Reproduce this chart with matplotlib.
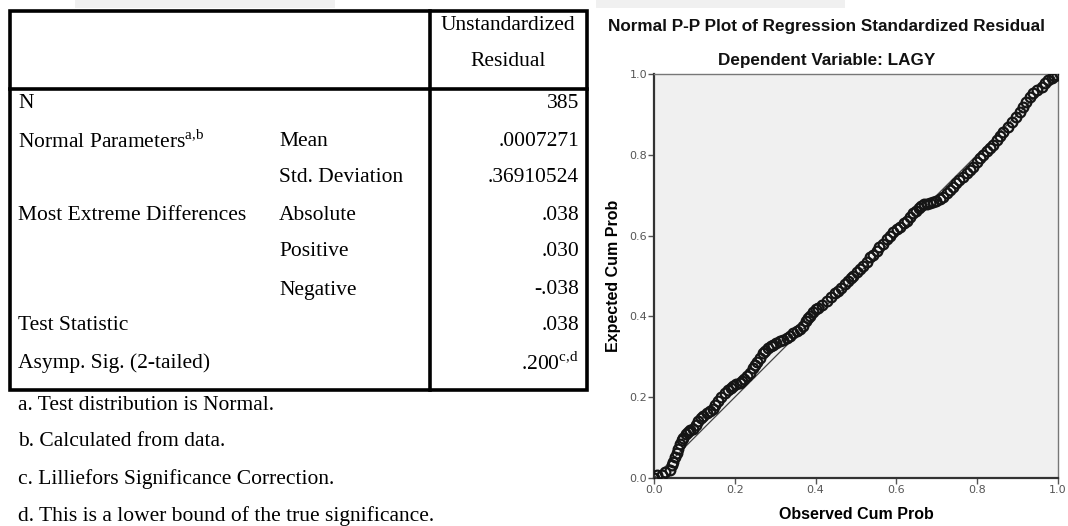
import numpy as np
import matplotlib
matplotlib.use("Agg")
import matplotlib.pyplot as plt
from matplotlib.patches import Rectangle

plt.rcParams['mathtext.fontset'] = 'custom'
plt.rcParams['mathtext.rm'] = 'Liberation Serif'

# --- table data (One-Sample Kolmogorov-Smirnov Test) ---
header = ["Unstandardized", "Residual"]
row_labels = ["N", r"Normal Parameters$^{\mathrm{a{,}b}}$", "", "Most Extreme Differences",
              "", "", "Test Statistic", "Asymp. Sig. (2-tailed)"]
sub_labels = ["", "Mean", "Std. Deviation", "Absolute", "Positive", "Negative", "", ""]
values = ["385", ".0007271", ".36910524", ".038", ".030", "-.038", ".038",
          r".200$^{\mathrm{c{,}d}}$"]
footnotes = ["a. Test distribution is Normal.",
             "b. Calculated from data.",
             "c. Lilliefors Significance Correction.",
             "d. This is a lower bound of the true significance."]

# --- P-P plot points ---
observed = [0.000, 0.007, 0.020, 0.027, 0.040, 0.044, 0.048, 0.052, 0.056, 0.060,
            0.064, 0.069, 0.073, 0.078, 0.083, 0.088, 0.097, 0.104, 0.110, 0.116,
            0.122, 0.130, 0.139, 0.145, 0.151, 0.159, 0.166, 0.176, 0.183, 0.190,
            0.196, 0.204, 0.212, 0.217, 0.224, 0.231, 0.238, 0.245, 0.250, 0.254,
            0.262, 0.270, 0.275, 0.283, 0.290, 0.295, 0.303, 0.312, 0.320, 0.328,
            0.337, 0.345, 0.353, 0.362, 0.370, 0.376, 0.381, 0.386, 0.394, 0.401,
            0.407, 0.416, 0.427, 0.437, 0.448, 0.455, 0.462, 0.473, 0.481, 0.488,
            0.493, 0.502, 0.510, 0.517, 0.526, 0.535, 0.542, 0.551, 0.558, 0.566,
            0.576, 0.584, 0.592, 0.601, 0.610, 0.618, 0.625, 0.633, 0.641, 0.648,
            0.655, 0.662, 0.668, 0.676, 0.683, 0.691, 0.699, 0.708, 0.716, 0.725,
            0.733, 0.741, 0.748, 0.756, 0.766, 0.774, 0.782, 0.790, 0.799, 0.807,
            0.815, 0.824, 0.832, 0.840, 0.849, 0.857, 0.865, 0.875, 0.885, 0.895,
            0.906, 0.914, 0.922, 0.930, 0.939, 0.948, 0.960, 0.968, 0.976, 0.984,
            0.990, 0.998]
expected = [0.000, 0.007, 0.008, 0.016, 0.021, 0.032, 0.040, 0.052, 0.062, 0.073,
            0.085, 0.095, 0.100, 0.110, 0.114, 0.119, 0.122, 0.132, 0.140, 0.148,
            0.153, 0.160, 0.166, 0.172, 0.180, 0.190, 0.200, 0.210, 0.219, 0.224,
            0.227, 0.232, 0.236, 0.239, 0.246, 0.252, 0.260, 0.272, 0.279, 0.286,
            0.296, 0.309, 0.315, 0.322, 0.327, 0.330, 0.334, 0.338, 0.342, 0.346,
            0.352, 0.358, 0.364, 0.370, 0.377, 0.388, 0.395, 0.401, 0.412, 0.418,
            0.422, 0.429, 0.437, 0.447, 0.457, 0.463, 0.470, 0.479, 0.488, 0.494,
            0.500, 0.509, 0.518, 0.524, 0.535, 0.546, 0.553, 0.562, 0.572, 0.580,
            0.591, 0.600, 0.609, 0.616, 0.622, 0.630, 0.636, 0.647, 0.657, 0.662,
            0.669, 0.673, 0.677, 0.679, 0.680, 0.682, 0.686, 0.690, 0.695, 0.706,
            0.714, 0.721, 0.729, 0.737, 0.746, 0.755, 0.763, 0.771, 0.781, 0.791,
            0.800, 0.809, 0.817, 0.825, 0.837, 0.847, 0.857, 0.869, 0.881, 0.893,
            0.905, 0.918, 0.931, 0.942, 0.952, 0.960, 0.969, 0.977, 0.985, 0.990,
            0.995, 0.998]
ticks = [0.0, 0.2, 0.4, 0.6, 0.8, 1.0]

W, H = 1068, 526
fig = plt.figure(figsize=(W / 100, H / 100), dpi=100)

# full-figure axes in pixel coords for the table part
bg = fig.add_axes([0, 0, 1, 1])
bg.set_xlim(0, W)
bg.set_ylim(H, 0)
bg.axis('off')

# light grey strips at the top edge of the screenshot
bg.add_patch(Rectangle((75, 0), 260, 8, color='#f0f0f0', lw=0))
bg.add_patch(Rectangle((596, 0), 249, 8, color='#f0f0f0', lw=0))

serif = 'Liberation Serif'
fs = 15.5
tl, tr, tt, tb = 10, 587, 11, 390
div_x, head_y = 430, 89
bg.add_patch(Rectangle((tl, tt), tr - tl, tb - tt, fill=False, ec='black', lw=2.6))
bg.plot([div_x, div_x], [tt, tb], color='black', lw=2.6)
bg.plot([tl, tr], [head_y, head_y], color='black', lw=2.6)

bg.text(508, 25, header[0], ha='center', va='center', fontsize=fs, family=serif)
bg.text(508, 62, header[1], ha='center', va='center', fontsize=fs, family=serif)

row_y = [104, 141, 178, 215, 252, 290, 326, 363]
for y, lab, sub, val in zip(row_y, row_labels, sub_labels, values):
    if lab:
        bg.text(18, y, lab, ha='left', va='center', fontsize=fs, family=serif)
    if sub:
        bg.text(279, y, sub, ha='left', va='center', fontsize=fs, family=serif)
    bg.text(579, y, val, ha='right', va='center', fontsize=fs, family=serif)

for y, note in zip([406, 441, 479, 516], footnotes):
    bg.text(18, y, note, ha='left', va='center', fontsize=fs, family=serif)

# --- P-P plot ---
sans = 'Liberation Sans'
ax = fig.add_axes([654 / W, (H - 478) / H, 404 / W, 404 / H])
ax.set_facecolor('#f0f0f0')
ax.plot([0, 1], [0, 1], color='#444444', lw=0.9, zorder=2)
ax.plot(observed, expected, 'o', ms=7, mfc='none', mec='#151515', mew=1.6, zorder=3)
ax.set_xlim(0, 1)
ax.set_ylim(0, 1)
ax.set_xticks(ticks)
ax.set_yticks(ticks)
ax.set_xticklabels([f"{t:.1f}" for t in ticks])
ax.set_yticklabels([f"{t:.1f}" for t in ticks])
ax.tick_params(direction='out', length=4, width=1, colors='#555555', labelsize=8,
               pad=1)
for s in ['left', 'bottom']:
    ax.spines[s].set_color('#333333')
    ax.spines[s].set_linewidth(1.6)
for s in ['top', 'right']:
    ax.spines[s].set_color('#777777')
    ax.spines[s].set_linewidth(1.0)
ax.set_xlabel('Observed Cum Prob', fontsize=11.5, fontweight='bold', family=sans,
              labelpad=9)
ax.set_ylabel('Expected Cum Prob', fontsize=11.5, fontweight='bold', family=sans,
              labelpad=6)

bg.text(827, 27, 'Normal P-P Plot of Regression Standardized Residual', ha='center',
        va='center', fontsize=12.3, fontweight='bold', family=sans, color='#111111')
bg.text(827, 60, 'Dependent Variable: LAGY', ha='center', va='center', fontsize=12.3,
        fontweight='bold', family=sans, color='#111111')

fig.savefig('out.png', dpi=100)
